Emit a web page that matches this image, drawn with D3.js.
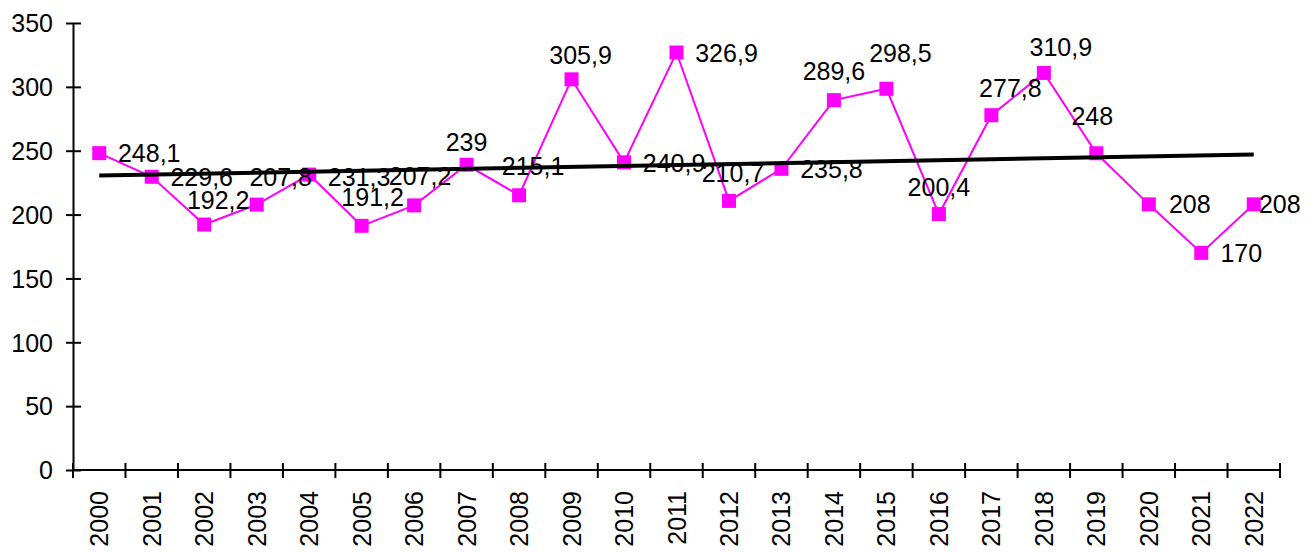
<!DOCTYPE html>
<html>
<head>
<meta charset="utf-8">
<script src="https://cdn.jsdelivr.net/npm/d3@7"></script>
<style>
  html, body { margin: 0; padding: 0; background: #fff; }
  svg { display: block; }
  text { font-family: "Liberation Sans", Arial, sans-serif; fill: #000; }
</style>
</head>
<body>
<svg id="chart" width="1316" height="552"></svg>
<script>
// Years on the category axis
const years = ["2000","2001","2002","2003","2004","2005","2006","2007","2008","2009","2010","2011",
               "2012","2013","2014","2015","2016","2017","2018","2019","2020","2021","2022"];

// Yearly values
const values = [248.1, 229.6, 192.2, 207.8, 231.3, 191.2, 207.2, 239, 215.1, 305.9, 240.9, 326.9,
                210.7, 235.8, 289.6, 298.5, 200.4, 277.8, 310.9, 248, 208, 170, 208];

// Value-axis ticks
const yTicks = [0, 50, 100, 150, 200, 250, 300, 350];

// Where each value label sits relative to its marker (centre offset in px)
const labelOffsets = [
  [50, 0], [50, 0], [14, -25], [24, -28], [50, 2], [11, -29], [6, -29], [0, -23],
  [14, -29], [9, -24], [50, 1], [50, 0], [4, -28], [50, 0], [0, -29], [14, -36],
  [0, -27], [19, -27], [17, -26], [-4, -37], [41, 0], [40, 0], [26, 0]
];

const svg = d3.select("#chart");
const plotLeft = 73, plotRight = 1280, plotTop = 23, plotBottom = 470;

const x = d3.scaleBand().domain(years).range([plotLeft, plotRight]).padding(0);
const y = d3.scaleLinear().domain([0, 350]).range([plotBottom, plotTop]);
const cx = d => x(d) + x.bandwidth() / 2;

// Value axis with ticks crossing the line
const yAxis = svg.append("g").attr("transform", `translate(${plotLeft},0)`)
  .call(d3.axisLeft(y).tickValues(yTicks).tickSize(0).tickFormat(d3.format("d")));
yAxis.select(".domain").attr("stroke", "#000").attr("stroke-width", 2);
yAxis.selectAll(".tick line").remove();
yAxis.selectAll(".tick").append("line")
  .attr("x1", -7).attr("x2", 8).attr("stroke", "#000").attr("stroke-width", 2);
yAxis.selectAll(".tick text")
  .attr("x", -20).attr("dy", "0.35em")
  .style("font-size", "25px").style("font-family", "Liberation Sans, Arial, sans-serif");

// Category axis: ticks on band boundaries, labels rotated
const xAxis = svg.append("g").attr("transform", `translate(0,${plotBottom})`);
xAxis.append("line").attr("x1", plotLeft).attr("x2", plotRight)
  .attr("stroke", "#000").attr("stroke-width", 2);
const bounds = years.map(d => x(d)).concat([plotRight]);
xAxis.selectAll("line.tk").data(bounds).join("line").attr("class", "tk")
  .attr("x1", d => d).attr("x2", d => d).attr("y1", -7).attr("y2", 8)
  .attr("stroke", "#000").attr("stroke-width", 2);
xAxis.selectAll("text.yr").data(years).join("text").attr("class", "yr")
  .attr("transform", d => `translate(${cx(d)},21) rotate(-90)`)
  .attr("text-anchor", "end").attr("dy", "0.36em")
  .style("font-size", "25px")
  .text(d => d);

// Series line
const pts = years.map((d, i) => ({ year: d, v: values[i], i }));
svg.append("path").datum(pts)
  .attr("fill", "none").attr("stroke", "#ff00ff").attr("stroke-width", 2)
  .attr("d", d3.line().x(d => cx(d.year)).y(d => y(d.v)));

// Square markers
const ms = 14;
svg.selectAll("rect.mk").data(pts).join("rect").attr("class", "mk")
  .attr("x", d => cx(d.year) - ms / 2).attr("y", d => y(d.v) - ms / 2)
  .attr("width", ms).attr("height", ms).attr("fill", "#ff00ff");

// Linear trend (least squares over year index)
const n = values.length;
const xm = d3.mean(pts, d => d.i), ym = d3.mean(values);
const slope = d3.sum(pts, d => (d.i - xm) * (d.v - ym)) / d3.sum(pts, d => (d.i - xm) ** 2);
const icpt = ym - slope * xm;
svg.append("line")
  .attr("x1", cx(years[0])).attr("y1", y(icpt))
  .attr("x2", cx(years[n - 1])).attr("y2", y(icpt + slope * (n - 1)))
  .attr("stroke", "#000").attr("stroke-width", 4);

// Value labels
const fmt = v => String(v).replace(".", ",");
svg.selectAll("text.lbl").data(pts).join("text").attr("class", "lbl")
  .attr("x", d => cx(d.year) + labelOffsets[d.i][0])
  .attr("y", d => y(d.v) + labelOffsets[d.i][1])
  .attr("text-anchor", "middle").attr("dy", "0.36em")
  .style("font-size", "25px")
  .text(d => fmt(d.v));
</script>
</body>
</html>
